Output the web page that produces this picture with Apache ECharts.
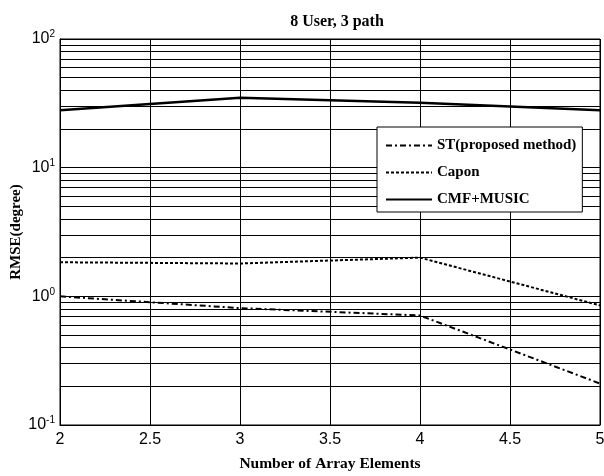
<!DOCTYPE html>
<html><head><meta charset="utf-8">
<script src="https://cdn.jsdelivr.net/npm/echarts@6/dist/echarts.min.js"></script>
<style>html,body{margin:0;padding:0;background:#fff}#c{width:604px;height:476px}</style>
</head><body><div id="c"></div>
<script>
const xValues = [2, 3, 4, 5];
const stValues = [1.0, 0.81, 0.71, 0.21];
const caponValues = [1.84, 1.8, 2.0, 0.85];
const cmfValues = [28, 35, 32, 28];
const minorGridValues = [0.2,0.3,0.4,0.5,0.6,0.7,0.8,0.9,2,3,4,5,6,7,8,9,20,30,40,50,60,70,80,90];
const seriesNames = ['ST(proposed method)', 'Capon', 'CMF+MUSIC'];

const pairs = v => xValues.map((x, i) => [x, v[i]]);
const serif = 'Liberation Serif, Times New Roman, serif';
const sans = 'Liberation Sans Narrow, Liberation Sans, sans-serif';

const chart = echarts.init(document.getElementById('c'));
chart.setOption({
  animation: false,
  backgroundColor: '#fff',
  title: {text: '8 User, 3 path', left: 332, textAlign: 'center', top: 9,
    textStyle: {fontFamily: serif, fontWeight: 'bold', fontSize: 16, color: '#000'}},
  grid: {left: 60, right: 4, top: 39, bottom: 51, show: true, borderColor: '#000', borderWidth: 1,
    outerBoundsMode: 'none', containLabel: false},
  legend: {orient: 'vertical', left: 377, top: 127, z: 20, zlevel: 1,
    backgroundColor: '#fff', borderColor: '#000', borderWidth: 1,
    padding: [11, 6, 5, 8], itemGap: 12, itemWidth: 46, itemHeight: 16,
    itemStyle: {opacity: 0},
    data: seriesNames,
    textStyle: {fontFamily: serif, fontWeight: 'bold', fontSize: 15, color: '#000'}},
  xAxis: {type: 'value', min: 2, max: 5, interval: 0.5,
    name: 'Number of Array Elements', nameLocation: 'middle', nameGap: 31,
    nameTextStyle: {fontFamily: serif, fontWeight: 'bold', fontSize: 15.5, color: '#000'},
    axisLine: {lineStyle: {color: '#000'}}, axisTick: {show: false},
    axisLabel: {fontFamily: sans, fontSize: 16, color: '#000', margin: 7},
    splitLine: {show: true, lineStyle: {color: '#000', width: 1}}},
  yAxis: {type: 'log', min: 0.1, max: 100, logBase: 10,
    name: 'RMSE(degree)', nameLocation: 'middle', nameGap: 36, nameMoveOverlap: false,
    nameTextStyle: {fontFamily: serif, fontWeight: 'bold', fontSize: 15, color: '#000'},
    axisLine: {lineStyle: {color: '#000'}}, axisTick: {show: false},
    axisLabel: {color: '#000', margin: 5,
      formatter: v => '{b|10}{s|' + Math.round(Math.log10(v)) + '}',
      rich: {b: {fontFamily: sans, fontSize: 16, color: '#000'},
             s: {fontFamily: sans, fontSize: 10, color: '#000', verticalAlign: 'top', padding: [0,0,9,0]}}},
    splitLine: {show: true, lineStyle: {color: '#000', width: 1}}},
  series: [
    {name: seriesNames[0], type: 'line', data: pairs(stValues), symbol: 'none',
      lineStyle: {color: '#000', width: 2, type: [6, 3, 2, 3]}, itemStyle: {color: '#000'}, z: 5},
    {name: seriesNames[1], type: 'line', data: pairs(caponValues), symbol: 'none',
      lineStyle: {color: '#000', width: 2, type: [3, 2]}, itemStyle: {color: '#000'}, z: 5},
    {name: seriesNames[2], type: 'line', data: pairs(cmfValues), symbol: 'none',
      lineStyle: {color: '#000', width: 2.5, type: 'solid'}, itemStyle: {color: '#000'}, z: 5,
      markLine: {silent: true, symbol: 'none', label: {show: false}, z: 1,
        lineStyle: {color: '#000', width: 1, type: 'solid'},
        data: minorGridValues.map(v => ({yAxis: v}))}}
  ]
});
</script></body></html>
